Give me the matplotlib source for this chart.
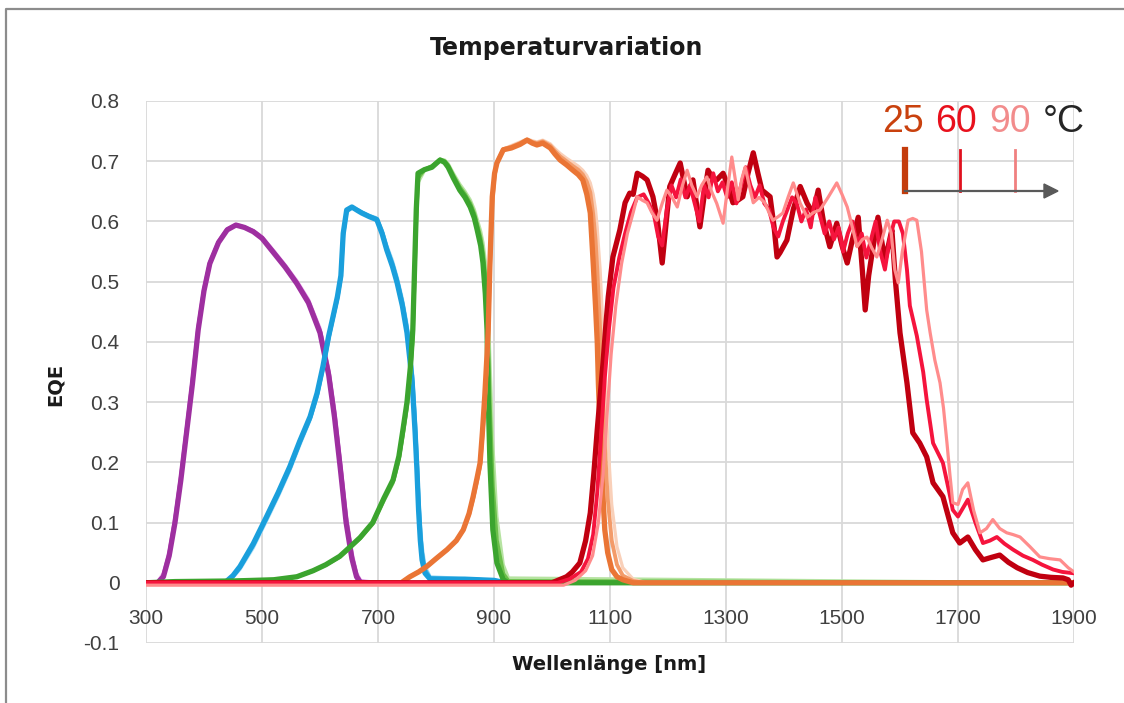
import matplotlib
matplotlib.use("Agg")
import matplotlib.pyplot as plt
from matplotlib.lines import Line2D

plt.rcParams['font.family'] = ['Liberation Sans', 'DejaVu Sans']

# --- Daten (EQE-Spektren) ---
# Subzelle 1 (violett)
wl_violett = [300, 320, 330, 340, 350, 360, 370, 380, 390, 400, 410, 425, 440, 455, 470, 485,
              500, 520, 540, 560, 580, 600, 615, 625, 635, 645, 655, 663, 670, 700]
violett_25 = [0, 0, 0.01, 0.045, 0.10, 0.17, 0.25, 0.33, 0.42, 0.485, 0.53, 0.565, 0.586, 0.594, 0.59, 0.583,
              0.572, 0.548, 0.524, 0.497, 0.465, 0.415, 0.345, 0.275, 0.19, 0.10, 0.04, 0.01, 0, 0]
violett_60 = [0, 0, 0.012, 0.048, 0.104, 0.174, 0.254, 0.334, 0.423, 0.487, 0.531, 0.566, 0.587, 0.594, 0.59, 0.584,
              0.573, 0.55, 0.526, 0.499, 0.468, 0.419, 0.35, 0.282, 0.197, 0.108, 0.045, 0.013, 0.002, 0]
violett_90 = [0, 0.002, 0.016, 0.053, 0.11, 0.18, 0.26, 0.34, 0.428, 0.49, 0.533, 0.567, 0.588, 0.595, 0.591, 0.585,
              0.575, 0.552, 0.528, 0.502, 0.471, 0.423, 0.356, 0.29, 0.205, 0.116, 0.052, 0.017, 0.004, 0]

# Subzelle 2 (blau)
wl_blau = [300, 436, 450, 462, 485, 508, 528, 548, 565, 583, 595, 605, 615, 622, 630, 636, 640, 646,
           655, 665, 672, 685, 698, 707, 715, 725, 733, 742, 750, 755, 759, 764, 767, 770, 773, 776,
           781, 790, 850, 900, 920]
blau_25 = [0, 0, 0.012, 0.027, 0.065, 0.11, 0.15, 0.193, 0.235, 0.276, 0.315, 0.359, 0.41, 0.44, 0.475, 0.51, 0.58, 0.619,
           0.624, 0.618, 0.614, 0.608, 0.603, 0.58, 0.553, 0.525, 0.498, 0.46, 0.415, 0.37, 0.332, 0.249, 0.19, 0.12, 0.07, 0.038,
           0.016, 0.006, 0.006, 0.004, 0]
blau_60 = [0, 0.001, 0.011, 0.025, 0.062, 0.107, 0.147, 0.19, 0.232, 0.273, 0.312, 0.356, 0.407, 0.438, 0.472, 0.508, 0.577, 0.617,
           0.623, 0.619, 0.615, 0.609, 0.604, 0.583, 0.557, 0.53, 0.503, 0.466, 0.423, 0.38, 0.345, 0.265, 0.205, 0.137, 0.085, 0.05,
           0.022, 0.008, 0.006, 0.004, 0]
blau_90 = [0, 0.001, 0.009, 0.022, 0.058, 0.103, 0.143, 0.186, 0.228, 0.27, 0.308, 0.352, 0.403, 0.435, 0.47, 0.505, 0.574, 0.615,
           0.622, 0.619, 0.616, 0.61, 0.606, 0.586, 0.561, 0.535, 0.508, 0.472, 0.43, 0.39, 0.356, 0.28, 0.22, 0.152, 0.1, 0.062,
           0.028, 0.01, 0.007, 0.004, 0]

# Subzelle 3 (gruen)
wl_gruen = [300, 350, 450, 520, 560, 588, 610, 634, 650, 669, 691, 710, 726, 736, 743, 750, 756, 760, 763,
            766, 769, 780, 793, 807, 815, 821, 830, 841, 850, 859, 866, 871, 877, 881, 885, 888, 890,
            893, 898, 905, 916, 925, 1900]
gruen_25 = [0, 0.002, 0.003, 0.005, 0.01, 0.02, 0.03, 0.044, 0.058, 0.075, 0.10, 0.14, 0.171, 0.21, 0.254, 0.30, 0.36, 0.42, 0.52,
            0.62, 0.68, 0.686, 0.69, 0.702, 0.698, 0.69, 0.672, 0.652, 0.64, 0.624, 0.606, 0.586, 0.56, 0.531, 0.48, 0.42, 0.309,
            0.199, 0.088, 0.033, 0.005, 0, 0]
gruen_60 = [0, 0.002, 0.003, 0.005, 0.01, 0.02, 0.03, 0.043, 0.057, 0.074, 0.099, 0.138, 0.168, 0.206, 0.248, 0.294, 0.352, 0.41, 0.505,
            0.605, 0.672, 0.686, 0.692, 0.703, 0.7, 0.693, 0.676, 0.657, 0.645, 0.63, 0.613, 0.595, 0.572, 0.548, 0.51, 0.47, 0.4,
            0.29, 0.16, 0.07, 0.015, 0.003, 0]
gruen_90 = [0, 0.002, 0.003, 0.005, 0.01, 0.019, 0.029, 0.042, 0.056, 0.073, 0.097, 0.135, 0.165, 0.202, 0.243, 0.288, 0.345, 0.4, 0.49,
            0.59, 0.664, 0.684, 0.692, 0.703, 0.702, 0.696, 0.68, 0.662, 0.65, 0.636, 0.62, 0.604, 0.584, 0.565, 0.535, 0.5, 0.46,
            0.37, 0.23, 0.11, 0.03, 0.008, 0]

# Subzelle 4 (orange)
wl_orange = [300, 740, 755, 770, 784, 800, 819, 835, 847, 857, 864, 871, 876, 880, 884, 888, 890, 893, 897,
             901, 905, 916, 930, 945, 957, 966, 974, 984, 997, 1005, 1014, 1025, 1036, 1045, 1053, 1060,
             1066, 1071, 1075, 1078, 1080, 1083, 1087, 1091, 1096, 1103, 1112, 1122, 1140, 1160, 1900]
orange_25 = [0, 0, 0.01, 0.018, 0.027, 0.04, 0.055, 0.07, 0.088, 0.115, 0.143, 0.175, 0.199, 0.25, 0.309, 0.38, 0.42, 0.531, 0.641,
             0.68, 0.697, 0.719, 0.722, 0.728, 0.735, 0.73, 0.727, 0.73, 0.722, 0.712, 0.702, 0.694, 0.685, 0.678, 0.669, 0.645,
             0.614, 0.531, 0.46, 0.40, 0.33, 0.254, 0.16, 0.088, 0.05, 0.022, 0.01, 0.005, 0, 0, 0]
orange_60 = [0, 0, 0.01, 0.018, 0.027, 0.04, 0.055, 0.07, 0.088, 0.114, 0.14, 0.171, 0.195, 0.243, 0.3, 0.37, 0.41, 0.52, 0.632,
             0.676, 0.697, 0.72, 0.724, 0.73, 0.736, 0.732, 0.73, 0.733, 0.726, 0.717, 0.708, 0.7, 0.692, 0.686, 0.678, 0.666,
             0.648, 0.612, 0.57, 0.52, 0.48, 0.42, 0.33, 0.23, 0.14, 0.07, 0.03, 0.012, 0.003, 0, 0]
orange_90 = [0, 0, 0.01, 0.018, 0.026, 0.039, 0.054, 0.069, 0.086, 0.112, 0.137, 0.167, 0.19, 0.236, 0.29, 0.36, 0.4, 0.51, 0.622,
             0.672, 0.696, 0.72, 0.726, 0.732, 0.737, 0.734, 0.732, 0.735, 0.729, 0.721, 0.713, 0.705, 0.698, 0.692, 0.685, 0.676,
             0.664, 0.645, 0.62, 0.59, 0.56, 0.52, 0.44, 0.35, 0.24, 0.13, 0.06, 0.025, 0.006, 0.001, 0]

# Subzelle 5 (rot)
wl_rot_25 = [300, 1000, 1010, 1025, 1035, 1048, 1058, 1066, 1072, 1078, 1083, 1088, 1093, 1097, 1105, 1117, 1126,
             1134, 1140, 1147, 1156, 1164, 1174, 1182, 1190, 1197, 1203, 1213, 1221, 1233, 1243, 1255, 1262,
             1269, 1277, 1284, 1295, 1303, 1312, 1320, 1329, 1338, 1347, 1355, 1362, 1376, 1383, 1388, 1393,
             1405, 1416, 1428, 1440, 1450, 1459, 1468, 1479, 1491, 1500, 1509, 1518, 1528, 1535, 1540, 1546,
             1552, 1562, 1568, 1574, 1580, 1586, 1592, 1600, 1612, 1622, 1634, 1646, 1657, 1674, 1691, 1703,
             1717, 1730, 1743, 1757, 1772, 1787, 1802, 1820, 1841, 1860, 1881, 1890, 1895, 1900]
rot_25 = [0, 0, 0.004, 0.01, 0.018, 0.033, 0.07, 0.116, 0.18, 0.254, 0.31, 0.365, 0.43, 0.475, 0.541, 0.586, 0.631,
          0.647, 0.645, 0.68, 0.675, 0.669, 0.641, 0.60, 0.531, 0.60, 0.658, 0.68, 0.697, 0.641, 0.669, 0.591, 0.64,
          0.685, 0.672, 0.669, 0.68, 0.66, 0.631, 0.635, 0.641, 0.68, 0.714, 0.68, 0.652, 0.641, 0.59, 0.541, 0.548,
          0.569, 0.62, 0.658, 0.63, 0.614, 0.652, 0.6, 0.558, 0.597, 0.56, 0.531, 0.57, 0.607, 0.52, 0.453, 0.51,
          0.548, 0.607, 0.57, 0.536, 0.56, 0.586, 0.503, 0.415, 0.332, 0.249, 0.232, 0.209, 0.166, 0.143, 0.083, 0.066,
          0.076, 0.055, 0.038, 0.042, 0.046, 0.034, 0.025, 0.017, 0.011, 0.009, 0.008, 0.005, -0.004, 0]

wl_rot_60 = [300, 1010, 1030, 1050, 1062, 1071, 1078, 1085, 1091, 1098, 1106, 1116, 1126, 1136, 1147, 1158, 1167,
             1176, 1183, 1190, 1198, 1206, 1214, 1222, 1230, 1238, 1246, 1254, 1262, 1270, 1278, 1286, 1294,
             1302, 1310, 1318, 1326, 1334, 1342, 1350, 1358, 1366, 1374, 1382, 1390, 1398, 1406, 1414, 1422,
             1430, 1438, 1446, 1454, 1462, 1470, 1478, 1486, 1494, 1502, 1510, 1518, 1526, 1534, 1542, 1550,
             1558, 1566, 1574, 1582, 1590, 1598, 1605, 1612, 1617, 1629, 1640, 1646, 1657, 1674, 1685, 1691,
             1700, 1717, 1730, 1743, 1755, 1767, 1780, 1795, 1812, 1829, 1845, 1864, 1880, 1898]
rot_60 = [0, 0, 0.006, 0.018, 0.04, 0.08, 0.15, 0.25, 0.34, 0.42, 0.49, 0.54, 0.58, 0.615, 0.64, 0.645, 0.63,
          0.61, 0.575, 0.56, 0.62, 0.66, 0.64, 0.67, 0.64, 0.66, 0.63, 0.6, 0.66, 0.64, 0.68, 0.65, 0.665,
          0.64, 0.665, 0.63, 0.66, 0.69, 0.66, 0.64, 0.66, 0.63, 0.62, 0.59, 0.575, 0.6, 0.62, 0.64, 0.63,
          0.6, 0.62, 0.59, 0.64, 0.61, 0.58, 0.6, 0.57, 0.59, 0.55, 0.58, 0.6, 0.56, 0.58, 0.54, 0.57,
          0.6, 0.55, 0.52, 0.57, 0.6, 0.6, 0.58, 0.52, 0.46, 0.41, 0.35, 0.304, 0.232, 0.199, 0.15, 0.121,
          0.11, 0.138, 0.1, 0.066, 0.07, 0.076, 0.065, 0.055, 0.045, 0.038, 0.03, 0.022, 0.018, 0.016]

wl_rot_90 = [300, 1020, 1040, 1058, 1070, 1080, 1088, 1095, 1102, 1110, 1120, 1130, 1140, 1147, 1156, 1164, 1172,
             1181, 1190, 1198, 1207, 1216, 1225, 1233, 1241, 1250, 1258, 1267, 1275, 1284, 1295, 1302, 1310,
             1316, 1321, 1327, 1333, 1340, 1347, 1357, 1367, 1374, 1381, 1390, 1398, 1407, 1416, 1428, 1440,
             1451, 1462, 1476, 1491, 1500, 1509, 1518, 1526, 1535, 1543, 1552, 1560, 1569, 1578, 1585, 1591,
             1597, 1604, 1614, 1622, 1629, 1637, 1646, 1652, 1660, 1669, 1675, 1681, 1686, 1691, 1700, 1708,
             1717, 1727, 1738, 1749, 1760, 1772, 1784, 1795, 1807, 1824, 1841, 1858, 1876, 1890, 1900]
rot_90 = [-0.004, -0.004, 0.004, 0.02, 0.045, 0.1, 0.18, 0.28, 0.38, 0.46, 0.53, 0.58, 0.615, 0.641, 0.635, 0.631, 0.615,
          0.602, 0.63, 0.652, 0.64, 0.624, 0.66, 0.685, 0.66, 0.641, 0.66, 0.674, 0.65, 0.63, 0.597, 0.65, 0.707,
          0.67, 0.636, 0.67, 0.69, 0.66, 0.631, 0.64, 0.631, 0.615, 0.602, 0.608, 0.614, 0.64, 0.664, 0.63, 0.607,
          0.615, 0.619, 0.64, 0.664, 0.645, 0.624, 0.59, 0.558, 0.57, 0.574, 0.555, 0.541, 0.57, 0.602, 0.58, 0.52,
          0.498, 0.55, 0.602, 0.605, 0.602, 0.55, 0.453, 0.415, 0.37, 0.332, 0.29, 0.232, 0.18, 0.133, 0.13, 0.155,
          0.166, 0.12, 0.083, 0.09, 0.105, 0.09, 0.083, 0.08, 0.076, 0.06, 0.043, 0.04, 0.038, 0.025, 0.018]

x_ticks = [300, 500, 700, 900, 1100, 1300, 1500, 1700, 1900]
y_ticks = [-0.1, 0, 0.1, 0.2, 0.3, 0.4, 0.5, 0.6, 0.7, 0.8]
y_tick_labels = ['-0.1', '0', '0.1', '0.2', '0.3', '0.4', '0.5', '0.6', '0.7', '0.8']

# Farben: (25 °C, 60 °C, 90 °C)
farben = {
    'violett': ('#9E2FA0', '#C25CC6', '#EDB3EE'),
    'blau': ('#1A9FDC', '#3DB2E7', '#A9DDF6'),
    'gruen': ('#3BA42E', '#6CC04B', '#B6E3A1'),
    'orange': ('#EA7535', '#F39B69', '#F9D0B9'),
    'rot': ('#C00010', '#F5143D', '#FF8C8C'),
}
breiten = (3.8, 2.8, 2.3)

fig = plt.figure(figsize=(11.24, 7.03), dpi=100)
ax = fig.add_axes([146 / 1124, 1 - 643 / 703, (1074 - 146) / 1124, (643 - 101) / 703])

kurven = [
    ('violett', (wl_violett, violett_25), (wl_violett, violett_60), (wl_violett, violett_90)),
    ('blau', (wl_blau, blau_25), (wl_blau, blau_60), (wl_blau, blau_90)),
    ('gruen', (wl_gruen, gruen_25), (wl_gruen, gruen_60), (wl_gruen, gruen_90)),
    ('orange', (wl_orange, orange_25), (wl_orange, orange_60), (wl_orange, orange_90)),
    ('rot', (wl_rot_25, rot_25), (wl_rot_60, rot_60), (wl_rot_90, rot_90)),
]
for name, k25, k60, k90 in kurven:
    c = farben[name]
    reihen = [(k90, c[2], breiten[2]), (k60, c[1], breiten[1]), (k25, c[0], breiten[0])]
    if name == 'rot':
        reihen = reihen[::-1]
    for (wl, eqe), col, lw in reihen:
        ax.plot(wl, eqe, color=col, lw=lw, solid_joinstyle='round')

ax.set_xlim(300, 1900)
ax.set_ylim(-0.1, 0.8)
ax.set_xticks(x_ticks)
ax.set_yticks(y_ticks)
ax.set_yticklabels(y_tick_labels)
ax.grid(True, color='#D9D9D9', lw=1.3)
ax.set_axisbelow(True)
for s in ['top', 'right', 'left']:
    ax.spines[s].set_visible(False)
ax.spines['bottom'].set_position(('data', 0))
ax.spines['bottom'].set_visible(False)
ax.tick_params(axis='both', length=0, labelsize=15, labelcolor='#404040')
ax.tick_params(axis='x', pad=19)
ax.tick_params(axis='y', pad=19)

# Titel und Achsenbeschriftungen
fett = ['DejaVu Sans']
fig.text(567 / 1124, 1 - 48 / 703, 'Temperaturvariation', ha='center', va='center',
         fontsize=17, fontweight='bold', family=fett, color='#1A1A1A')
fig.text(609 / 1124, 1 - 665 / 703, 'Wellenlänge [nm]', ha='center', va='center',
         fontsize=14, fontweight='bold', family=fett, color='#1A1A1A')
fig.text(55 / 1124, 1 - 384 / 703, 'EQE', ha='center', va='center', rotation=90,
         fontsize=14, fontweight='bold', family=fett, color='#1A1A1A')

# Temperatur-Legende oben rechts
W, H = 1124, 703
for txt, xp, col in [('25', 903, '#C9410E'), ('60', 956, '#E8101C'), ('90', 1010, '#F28C8C'), ('°C', 1064, '#262626')]:
    fig.text(xp / W, 1 - 122 / H, txt, ha='center', va='center', fontsize=27, color=col)
for xp, col, lw in [(905, '#C43C0C', 4.5), (960, '#E0101E', 2.0), (1015, '#F08080', 2.0)]:
    fig.add_artist(Line2D([xp / W, xp / W], [1 - 150 / H, 1 - 191 / H], color=col, lw=lw,
                          transform=fig.transFigure))
fig.add_artist(Line2D([905 / W, 1045 / W], [1 - 191 / H, 1 - 191 / H], color='#595959', lw=1.6,
                      transform=fig.transFigure))
fig.patches.append(plt.Polygon([[1044 / W, 1 - 184 / H], [1058 / W, 1 - 191 / H], [1044 / W, 1 - 198 / H]],
                               closed=True, color='#595959', transform=fig.transFigure))

# Rahmen (links und oben)
fig.add_artist(Line2D([6 / W, 6 / W, 1], [0, 1 - 9 / H, 1 - 9 / H], color='#8C8C8C', lw=1.6,
                      transform=fig.transFigure))

fig.savefig('out.png', dpi=100)
